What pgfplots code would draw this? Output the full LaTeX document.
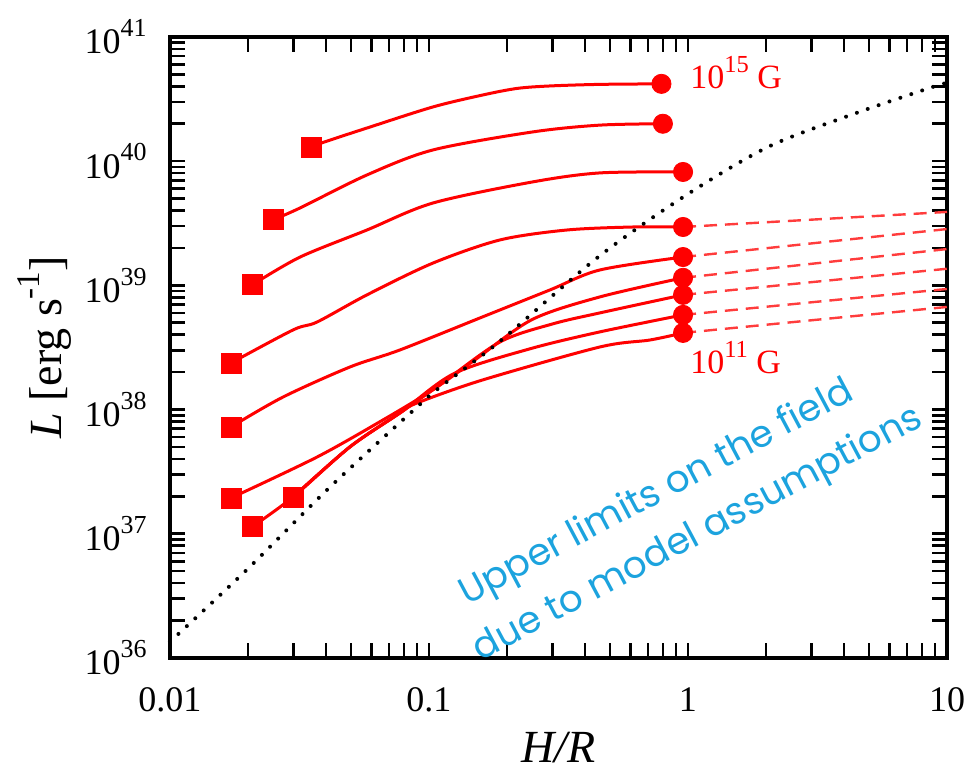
\documentclass[border=0pt]{standalone}
\usepackage{fontspec}
\setmainfont{Liberation Serif}
\newfontfamily\notefont{Poppins}
\usepackage{pgfplots}
\pgfplotsset{compat=1.18}

\definecolor{curvered}{RGB}{255,0,0}
\definecolor{dashred}{RGB}{255,60,60}
\definecolor{noteblue}{RGB}{28,163,222}

% superscript set in the text font
\newcommand\sups[1]{\raisebox{0.48em}{\scalebox{0.72}{#1}}}

\begin{document}
\begin{tikzpicture}
\useasboundingbox (-85pt,-56.5pt) rectangle (399pt,329pt);
\begin{axis}[
  at={(0,0)}, anchor=south west,
  scale only axis, width=388.5pt, height=310.5pt,
  xmode=log, ymode=log,
  xmin=0.01, xmax=10, ymin=1e36, ymax=1e41,
  clip=false,
  xtick={0.01,0.1,1,10},
  xticklabels={0.01,0.1,1,10},
  minor xtick={0.02,0.03,0.04,0.05,0.06,0.07,0.08,0.09,
               0.2,0.3,0.4,0.5,0.6,0.7,0.8,0.9,
               2,3,4,5,6,7,8,9},
  ytick={1e36,1e37,1e38,1e39,1e40,1e41},
  yticklabels={10\sups{36},10\sups{37},10\sups{38},10\sups{39},10\sups{40},10\sups{41}},
  minor ytick={2e36,3e36,4e36,5e36,6e36,7e36,8e36,9e36,
               2e37,3e37,4e37,5e37,6e37,7e37,8e37,9e37,
               2e38,3e38,4e38,5e38,6e38,7e38,8e38,9e38,
               2e39,3e39,4e39,5e39,6e39,7e39,8e39,9e39,
               2e40,3e40,4e40,5e40,6e40,7e40,8e40,9e40},
  tick align=inside,
  major tick length=7.5pt, minor tick length=7.5pt,
  every tick/.style={black, line width=1.3pt},
  axis line style={line width=2pt},
  xticklabel style={font=\fontsize{18}{21}\selectfont, anchor=north, inner sep=0pt, yshift=-14.5pt},
  yticklabel style={font=\fontsize{18}{21}\selectfont, anchor=east, inner sep=0pt, xshift=-11.5pt},
  xlabel={\textit{H/R}},
  ylabel={\textit{L} [erg s\sups{-1}]},
  xlabel style={at={(axis description cs:0.5,-0.168)}, anchor=base, font=\fontsize{23}{27}\selectfont},
  ylabel style={at={(axis description cs:-0.139,0.5)}, anchor=base, font=\fontsize{23}{27}\selectfont},
  curve/.style={curvered, line width=1.5pt, line join=round, smooth, tension=0.5},
  extra/.style={dashred, line width=1.2pt, dash pattern=on 6.5pt off 4pt},
]

% extrapolations beyond H/R = 1
\addplot[extra] coordinates {(0.957,2.95e39) (10,3.90e39)};
\addplot[extra] coordinates {(0.957,1.69e39) (10,2.84e39)};
\addplot[extra] coordinates {(0.957,1.15e39) (10,1.96e39)};
\addplot[extra] coordinates {(0.957,8.38e38) (10,1.36e39)};
\addplot[extra] coordinates {(0.957,5.78e38) (10,9.35e38)};
\addplot[extra] coordinates {(0.957,4.14e38) (10,6.70e38)};

% luminosity curves, B = 10^15 G (top) down to 10^11 G (bottom)
\addplot[curve] coordinates {
 (0.0353,1.30e40) (0.0396,1.43e40) (0.0577,1.85e40) (0.1035,2.73e40)
 (0.1614,3.41e40) (0.2187,3.85e40) (0.293,4.03e40) (0.457,4.15e40) (0.79,4.19e40)};
\addplot[curve] coordinates {
 (0.0250,3.37e39) (0.0318,4.20e39) (0.0576,7.74e39) (0.1035,1.23e40)
 (0.252,1.72e40) (0.457,1.95e40) (0.80,2.00e40)};
\addplot[curve] coordinates {
 (0.0208,1.01e39) (0.0318,1.69e39) (0.0576,2.79e39) (0.1035,4.60e39)
 (0.252,6.81e39) (0.457,8.04e39) (0.957,8.18e39)};
\addplot[curve] coordinates {
 (0.0172,2.37e38) (0.0299,4.38e38) (0.0370,5.07e38) (0.0576,8.38e38)
 (0.1035,1.51e39) (0.188,2.32e39) (0.341,2.79e39) (0.614,2.95e39) (0.957,2.95e39)};
\addplot[curve] coordinates {
 (0.0172,7.24e37) (0.0273,1.26e38) (0.0495,2.20e38) (0.0773,3.02e38)
 (0.161,5.57e38) (0.293,9.18e38) (0.457,1.33e39) (0.957,1.69e39)};
\addplot[curve] coordinates {
 (0.0172,1.94e37) (0.0370,4.15e37) (0.0664,8.24e37) (0.1035,1.44e38)
 (0.150,2.50e38) (0.25,5.30e38) (0.457,8.07e38) (0.957,1.15e39)};
\addplot[curve] coordinates {
 (0.0208,1.14e37) (0.0299,1.98e37) (0.0495,5.00e37) (0.0773,9.40e37)
 (0.110,1.58e38) (0.188,3.50e38) (0.30,4.89e38) (0.457,6.00e38) (0.957,8.38e38)};
\addplot[curve] coordinates {
 (0.0299,1.98e37) (0.0495,5.00e37) (0.0773,9.40e37) (0.125,1.95e38)
 (0.245,3.08e38) (0.457,4.22e38) (0.957,5.78e38)};
\addplot[curve] coordinates {
 (0.0299,1.98e37) (0.0495,5.00e37) (0.0773,9.40e37) (0.090,1.13e38)
 (0.161,1.73e38) (0.457,3.19e38) (0.713,3.63e38) (0.957,4.14e38)};

% start points (squares) and end points (circles)
\addplot[only marks, mark=square*, mark size=5pt, curvered] coordinates {
 (0.0353,1.30e40) (0.0250,3.37e39) (0.0208,1.01e39) (0.0172,2.37e38)
 (0.0172,7.24e37) (0.0172,1.94e37) (0.0208,1.14e37) (0.0299,1.98e37)};
\addplot[only marks, mark=*, mark size=4.8pt, curvered] coordinates {
 (0.79,4.19e40) (0.80,2.00e40) (0.957,8.18e39) (0.957,2.95e39)
 (0.957,1.69e39) (0.957,1.15e39) (0.957,8.38e38) (0.957,5.78e38) (0.957,4.14e38)};

% limiting relation
\addplot[black, line width=2pt, line cap=round, dash pattern=on 0pt off 5.75pt, smooth] coordinates {
 (0.0100,1.35e36) (0.0198,5.13e36) (0.0415,2.38e37) (0.090,1.05e38)
 (0.110,1.51e38) (0.188,3.55e38) (0.445,1.66e39) (0.957,5.13e39)
 (2.02,1.29e40) (4.22,2.34e40) (8.59,3.89e40) (10,4.27e40)};

\node[anchor=base west, text=curvered, font=\fontsize{17}{20}\selectfont, inner sep=0pt]
  at (axis cs:1.018,3.81e40) {10\sups{15} G};
\node[anchor=base west, text=curvered, font=\fontsize{17}{20}\selectfont, inner sep=0pt]
  at (axis cs:1.018,1.94e38) {10\sups{11} G};

\node[rotate=28, anchor=base, text=noteblue, font=\notefont\fontsize{18.7}{22}\selectfont, inner sep=0pt]
  at (axis cs:0.79,1.80e37) {Upper limits on the field};
\node[rotate=28, anchor=base, text=noteblue, font=\notefont\fontsize{18.7}{22}\selectfont, inner sep=0pt]
  at (axis cs:1.14,8.40e36) {due to model assumptions};
\end{axis}
\end{tikzpicture}
\end{document}
